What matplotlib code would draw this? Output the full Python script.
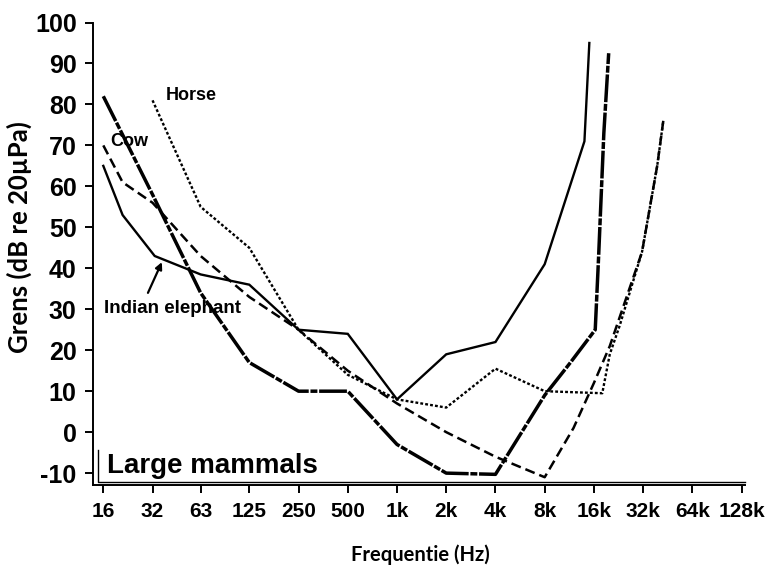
import numpy as np
import matplotlib
matplotlib.use("Agg")
import matplotlib.pyplot as plt

# ---- data (Hz, dB re 20 uPa) ----
freq_ticks = [16, 32, 63, 125, 250, 500, 1000, 2000, 4000, 8000, 16000, 32000, 64000, 128000]
freq_labels = ["16", "32", "63", "125", "250", "500", "1k", "2k", "4k", "8k", "16k", "32k", "64k", "128k"]
db_ticks = [-10, 0, 10, 20, 30, 40, 50, 60, 70, 80, 90, 100]

elephant_f = [16, 21, 33, 63, 125, 250, 500, 1000, 2000, 4000, 8000, 14000, 15000]
elephant_db = [65, 53, 43, 38.5, 36, 25, 24, 8, 19, 22, 41, 71, 95]

human_f = [16, 32, 63, 125, 250, 500, 1000, 2000, 4000, 8000, 11500, 16300, 17100, 18400, 19700]
human_db = [82, 58, 34, 17, 10, 10, -3, -10, -10.3, 9, 17, 25, 43, 73, 92.5]

cow_f = [16, 21, 32, 63, 125, 250, 500, 1000, 2000, 4000, 8000, 12000, 16000, 20000, 31500, 39000, 42500]
cow_db = [70, 61, 56, 43, 33, 25, 15, 7, 0, -6, -11, 1, 12, 21, 44, 65, 76]

horse_f = [32, 63, 125, 250, 500, 1000, 2000, 4000, 8000, 18000, 20000, 23000, 31500, 39000, 42500]
horse_db = [81, 55, 45, 25, 14, 8, 6, 15.5, 10, 9.5, 19, 26, 44, 65, 76]

# ---- figure ----
fig = plt.figure(figsize=(7.71, 5.70), dpi=100)
W, H = 771, 570
ax = fig.add_axes([93.3 / W, 1 - 485 / H, (745 - 93.3) / W, (485 - 22.5) / H])

ax.plot(elephant_f, elephant_db, color="black", lw=1.7, solid_joinstyle="miter")
ax.plot(human_f, human_db, color="black", lw=2.5, dashes=(8, 0.5, 2, 0.5))
ax.plot(cow_f, cow_db, color="black", lw=1.8, dashes=(4, 2))
ax.plot(horse_f, horse_db, color="black", lw=1.7, dashes=(1.2, 0.9))

ax.set_xscale("log", base=2)
ax.set_xlim(16 * 2 ** (-10 / 49.23), 16 * 2 ** ((745 - 103.3) / 49.23))
ax.set_ylim(-12.9, 100)

ax.set_xticks(freq_ticks)
ax.set_xticklabels(freq_labels)
ax.minorticks_off()
ax.set_yticks(db_ticks)
ax.set_yticklabels([str(v) for v in db_ticks])

for s in ["top", "right"]:
    ax.spines[s].set_visible(False)
for s in ["left", "bottom"]:
    ax.spines[s].set_linewidth(1.4)

ax.tick_params(axis="both", direction="out", length=6, width=1.4, colors="black")
ax.tick_params(axis="x", pad=6)
ax.tick_params(axis="y", pad=6)
for lab in ax.get_xticklabels():
    lab.set_family(["Liberation Sans Narrow", "Liberation Sans"])
    lab.set_fontsize(15)
    lab.set_fontweight("bold")
for lab in ax.get_yticklabels():
    lab.set_family("Liberation Sans")
    lab.set_fontsize(18)
    lab.set_fontweight("bold")

# inner frame around the panel title
ax.plot([0.0077, 0.0077, 1.0], [0.0757, 0.0071, 0.0071], transform=ax.transAxes,
        color="black", lw=1.0, clip_on=False)

# labels inside the plot
lab_font = dict(family="Liberation Sans", fontweight="bold", color="black",
                ha="left", va="baseline")
ax.text(38.3, 81, "Horse", fontsize=13, **lab_font)
ax.text(17.6, 69.8, "Cow", fontsize=13, **lab_font)
ax.text(16.1, 29, "Indian elephant", fontsize=13.5, **lab_font)
ax.text(16.9, -10, "Large mammals", fontsize=20, **lab_font)

ax.annotate("", xy=(36.5, 41.5), xytext=(30, 34),
            arrowprops=dict(arrowstyle="-|>", color="black", lw=1.6,
                            mutation_scale=10, shrinkA=0, shrinkB=0))

# axis titles
fig.text(420 / W, 1 - 555 / H, "Frequentie (Hz)", family="Lato", fontweight="bold",
         fontsize=14.5, ha="center", va="center")
fig.text(19 / W, 1 - 237 / H, "Grens (dB re 20µPa)", family="Lato", fontweight="bold",
         fontsize=18.5, ha="center", va="center", rotation=90)

fig.savefig("out.png", dpi=100)
